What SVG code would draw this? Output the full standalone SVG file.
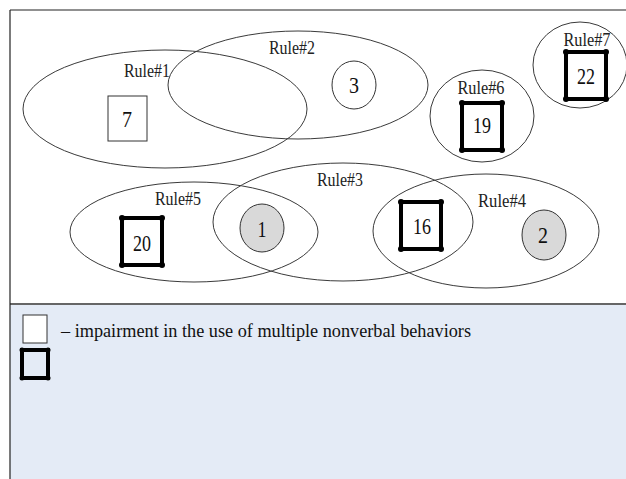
<svg xmlns="http://www.w3.org/2000/svg" width="626" height="479" viewBox="0 0 626 479">
<style>
.set{fill:none;stroke:#3a3a3a;stroke-width:1}
.lbl{font-family:"Liberation Serif","Times New Roman",serif;font-size:19px;fill:#222;text-anchor:middle}
.num{font-family:"Liberation Serif","Times New Roman",serif;font-size:23px;fill:#111;text-anchor:middle}
.thin{fill:#fff;stroke:#333;stroke-width:1}
.thick{fill:#fff;stroke:#000;stroke-width:4}
.dot{fill:#000}
.gray{fill:#d9d9d9;stroke:#333;stroke-width:1}
.plain{fill:none;stroke:#333;stroke-width:1}
.leg{font-family:"Liberation Serif","Times New Roman",serif;font-size:19px;fill:#111}
</style>
<defs>
<g id="tsq">
<rect x="0" y="0" width="40" height="47" class="thick"/>
<circle cx="0" cy="0" r="3" class="dot"/><circle cx="40" cy="0" r="3" class="dot"/>
<circle cx="0" cy="47" r="3" class="dot"/><circle cx="40" cy="47" r="3" class="dot"/>
</g>
</defs>
<rect x="0" y="0" width="626" height="479" fill="#fff"/>
<rect x="10" y="304" width="616" height="175" fill="#e4ebf6"/>
<line x1="10" y1="304" x2="626" y2="304" stroke="#666" stroke-width="2"/>
<line x1="10" y1="10" x2="626" y2="10" stroke="#222" stroke-width="1.2"/>
<line x1="10" y1="10" x2="10" y2="479" stroke="#222" stroke-width="1.2"/>

<g id="connectors"></g>

<g id="rule1"><ellipse cx="165" cy="109" rx="142" ry="59" class="set"/><text x="147" y="77" class="lbl" textLength="46" lengthAdjust="spacingAndGlyphs">Rule#1</text></g>
<g id="rule2"><ellipse cx="298" cy="85" rx="130" ry="54" class="set"/><text x="292" y="54" class="lbl" textLength="46" lengthAdjust="spacingAndGlyphs">Rule#2</text></g>
<g id="rule6"><ellipse cx="482" cy="116" rx="52" ry="46" class="set"/><text x="481" y="94" class="lbl" textLength="47" lengthAdjust="spacingAndGlyphs">Rule#6</text></g>
<g id="rule7"><ellipse cx="580" cy="65" rx="47" ry="43" class="set"/><text x="587" y="46" class="lbl" textLength="47" lengthAdjust="spacingAndGlyphs">Rule#7</text></g>
<g id="rule5"><ellipse cx="194" cy="232" rx="124" ry="50" class="set"/><text x="178" y="205" class="lbl" textLength="46" lengthAdjust="spacingAndGlyphs">Rule#5</text></g>
<g id="rule3"><ellipse cx="343" cy="222" rx="130" ry="59" class="set"/><text x="340" y="186" class="lbl" textLength="46" lengthAdjust="spacingAndGlyphs">Rule#3</text></g>
<g id="rule4"><ellipse cx="486" cy="231" rx="113" ry="57" class="set"/><text x="502" y="207" class="lbl" textLength="48" lengthAdjust="spacingAndGlyphs">Rule#4</text></g>

<g id="n7"><rect x="108" y="96" width="39" height="45" class="thin"/><text x="127" y="127" class="num" textLength="10" lengthAdjust="spacingAndGlyphs">7</text></g>
<g id="n3"><ellipse cx="354" cy="85" rx="22" ry="24" class="plain"/><text x="354" y="93" class="num" textLength="10" lengthAdjust="spacingAndGlyphs">3</text></g>
<g id="n19"><use href="#tsq" x="462" y="103"/><text x="482" y="133" class="num" textLength="18" lengthAdjust="spacingAndGlyphs">19</text></g>
<g id="n22"><use href="#tsq" x="566" y="52"/><text x="586" y="84" class="num" textLength="18" lengthAdjust="spacingAndGlyphs">22</text></g>
<g id="n20"><use href="#tsq" x="122" y="218"/><text x="142" y="251" class="num" textLength="18" lengthAdjust="spacingAndGlyphs">20</text></g>
<g id="n1"><ellipse cx="262" cy="228" rx="22" ry="24" class="gray"/><text x="262" y="237" class="num" textLength="9" lengthAdjust="spacingAndGlyphs">1</text></g>
<g id="n16"><use href="#tsq" x="401" y="202"/><text x="422" y="234" class="num" textLength="18" lengthAdjust="spacingAndGlyphs">16</text></g>
<g id="n2"><ellipse cx="544" cy="235" rx="22" ry="25" class="gray"/><text x="543" y="243" class="num" textLength="10" lengthAdjust="spacingAndGlyphs">2</text></g>

<g id="legend">
<rect x="23" y="315" width="24" height="28" class="thin"/>
<text x="61" y="337" class="leg" textLength="410" lengthAdjust="spacingAndGlyphs">– impairment in the use of multiple nonverbal behaviors</text>
<rect x="22" y="350" width="26" height="28" fill="none" stroke="#000" stroke-width="4"/>
<circle cx="22" cy="350" r="2.5" class="dot"/><circle cx="48" cy="350" r="2.5" class="dot"/>
<circle cx="22" cy="378" r="2.5" class="dot"/><circle cx="48" cy="378" r="2.5" class="dot"/>
</g>
</svg>
